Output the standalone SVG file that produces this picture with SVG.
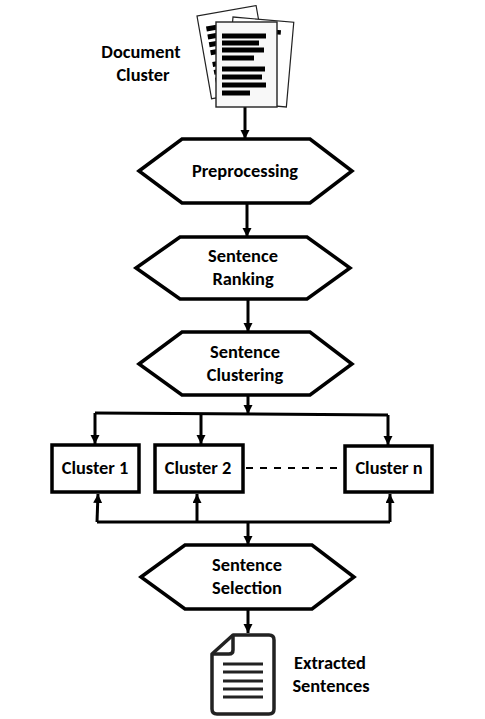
<svg xmlns="http://www.w3.org/2000/svg" width="485" height="719" viewBox="0 0 485 719">
<defs>
<marker id="ah" markerUnits="userSpaceOnUse" markerWidth="10" markerHeight="10" refX="9" refY="4.500" orient="auto"><path d="M0 0L9 4.500L0 9z" fill="#000"/></marker>
</defs>
<style>
text{font-family:Carlito,"Open Sans","Noto Sans","Liberation Sans",sans-serif;font-size:18.400px;font-weight:700;fill:#000;text-anchor:middle}
.shape{fill:#fff;stroke:#000;stroke-width:3.500}
.conn{fill:none;stroke:#000;stroke-width:3}
.arr{marker-end:url(#ah)}
.page{fill:#fff;stroke:#222;stroke-width:1.200}
.front{fill:#f8f8f8;stroke:#222;stroke-width:1.400}
.bar{fill:#000}
.docline{stroke:#222;stroke-width:2.800}
</style>
<rect width="485" height="719" fill="#fff"/>
<g id="connectors">
<path class="conn arr" d="M245 107V139"/>
<path class="conn arr" d="M247 203V237"/>
<path class="conn arr" d="M248 299V332"/>
<path class="conn arr" d="M248 395V414"/>
<path class="conn" d="M95 413L388 415"/>
<path class="conn arr" d="M95 413V444"/>
<path class="conn arr" d="M201 414V444"/>
<path class="conn arr" d="M388 415V445"/>
<path class="conn" d="M97 522H390"/>
<path class="conn arr" d="M97 522L98 494"/>
<path class="conn arr" d="M197 522V494"/>
<path class="conn arr" d="M390 522V494"/>
<path class="conn arr" d="M248 523V545"/>
<path class="conn arr" d="M248 609V633"/>
<path class="conn" stroke-width="2" style="stroke-width:2" stroke-dasharray="7 7" d="M246 468H344"/>
</g>
<g id="document-cluster">
<g transform="rotate(-10 197 16)">
<rect class="page" x="197" y="16" width="60" height="84"/>
<path class="bar" d="M204 28h24v5h-24zM204 36h24v5h-24zM204 44h24v5h-24zM204 52h24v5h-24zM204 64h24v5h-24zM204 72h24v5h-24zM204 80h24v5h-24zM204 88h24v5h-24z"/>
</g>
<g transform="rotate(5 233 17)">
<rect class="page" x="233" y="17" width="61" height="85"/>
<path class="bar" d="M265 26h17v4.500h-17zM265 41h7v4.500h-7z"/>
</g>
<rect class="front" x="216" y="22" width="61" height="85"/>
<path class="bar" d="M222 33.500h44v5h-44zM222 40.500h37v5h-37zM222 47.500h42v5h-42zM222 55.500h32v5h-32zM222 66.500h43v5h-43zM222 74.500h40v5h-40zM222 82.500h44v5h-44zM222 90.500h28v5h-28z"/>
<text x="141" y="58">Document</text>
<text x="143" y="81">Cluster</text>
</g>
<g id="preprocessing">
<polygon class="shape" points="139,171 182,139 310,139 352,171 310,203 182,203"/>
<text x="245" y="177">Preprocessing</text>
</g>
<g id="sentence-ranking">
<polygon class="shape" points="136,268 180,237 307,237 350,268 307,299 180,299"/>
<text x="243" y="262">Sentence</text>
<text x="243" y="285">Ranking</text>
</g>
<g id="sentence-clustering">
<polygon class="shape" points="139,364 182,332 310,332 352,364 310,395 182,395"/>
<text x="245" y="358">Sentence</text>
<text x="245" y="381">Clustering</text>
</g>
<g id="cluster-1">
<rect class="shape" x="52" y="445" width="87" height="47"/>
<text x="95" y="474">Cluster 1</text>
</g>
<g id="cluster-2">
<rect class="shape" x="155" y="445" width="88" height="47"/>
<text x="198" y="474">Cluster 2</text>
</g>
<g id="cluster-n">
<rect class="shape" x="345" y="446" width="87" height="46"/>
<text x="389" y="474">Cluster n</text>
</g>
<g id="sentence-selection">
<polygon class="shape" points="141,577 185,545 312,545 354,577 312,609 185,609"/>
<text x="247" y="571">Sentence</text>
<text x="247" y="594">Selection</text>
</g>
<g id="extracted-sentences">
<path d="M233 635H269Q274 635 274 640V709Q274 714 269 714H217Q212 714 212 709V654Z" fill="#fff" stroke="#222" stroke-width="3.500" stroke-linejoin="round"/>
<path d="M233 635V650Q233 654 229 654H212" fill="none" stroke="#222" stroke-width="3.500"/>
<path class="docline" d="M223 664H263M223 672H263M223 681H263M223 689H263M223 697H263"/>
<text x="330" y="669">Extracted</text>
<text x="331" y="692">Sentences</text>
</g>
</svg>
